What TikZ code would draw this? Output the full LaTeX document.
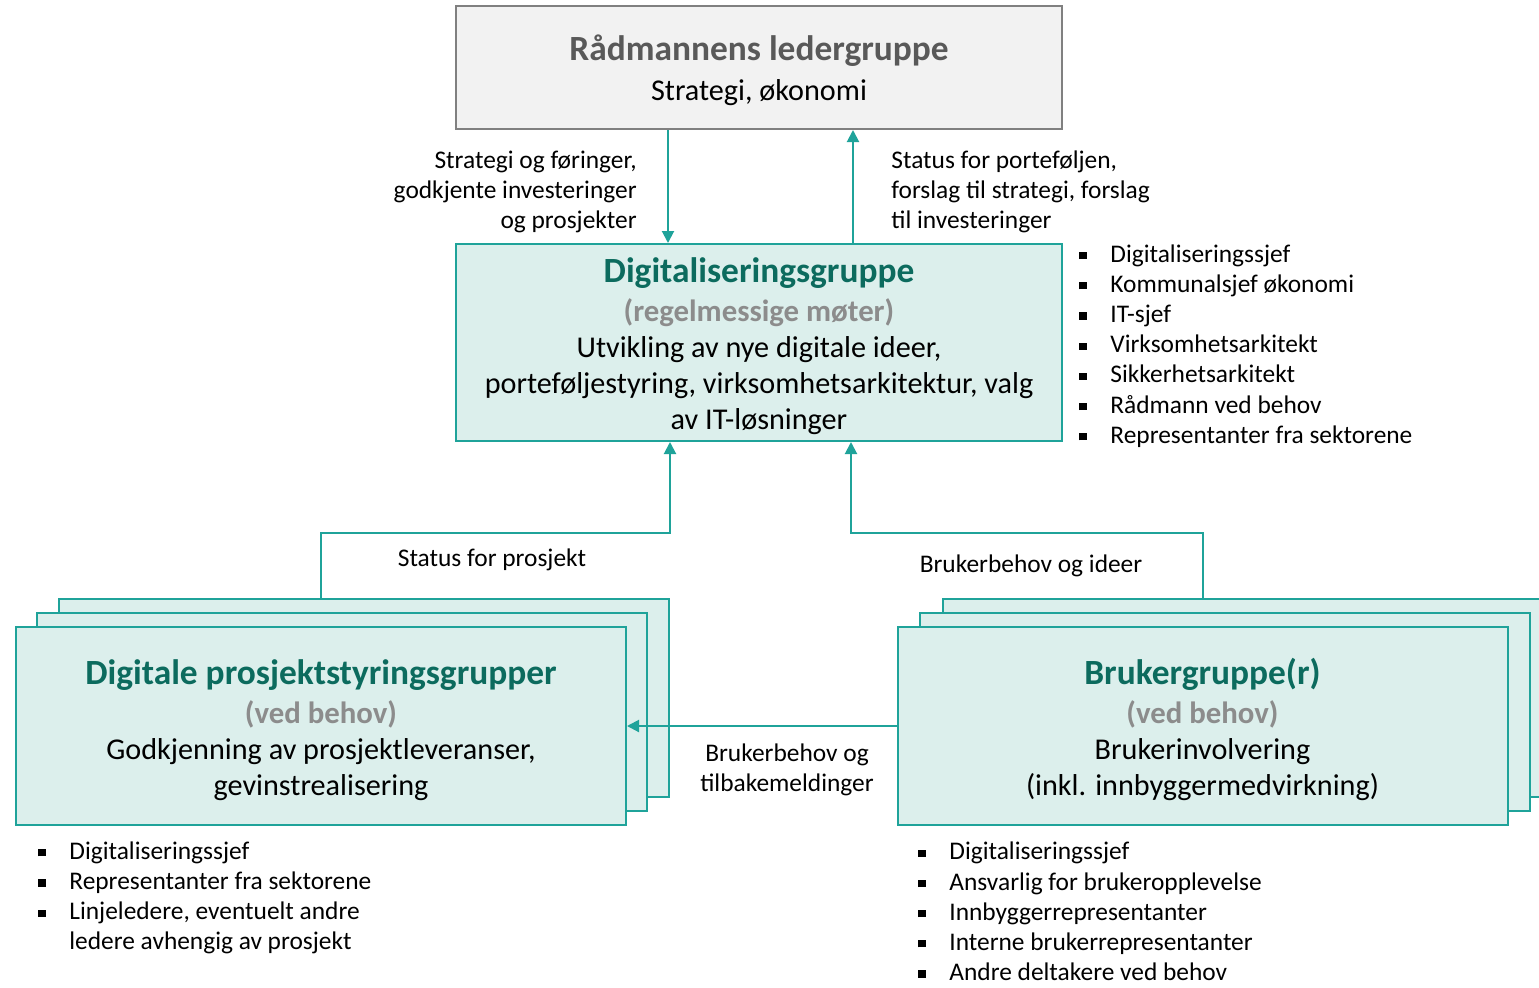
\documentclass[tikz,border=0pt]{standalone}
\usepackage{fontspec}
\setmainfont{Carlito}
\usetikzlibrary{arrows.meta,positioning}

\definecolor{tealline}{HTML}{1FA39A}
\definecolor{tealfill}{HTML}{DCEFEC}
\definecolor{tealdark}{HTML}{0C6B5E}
\definecolor{subgrey}{HTML}{8C8C8C}
\definecolor{boxgrey}{HTML}{F2F2F2}
\definecolor{linegrey}{HTML}{808080}
\definecolor{txtgrey}{HTML}{595959}

\newcommand{\grptitle}[1]{{\fontsize{17.7}{18}\selectfont\bfseries\color{tealdark}\rule{0pt}{16.5pt}#1}}
\newcommand{\grpsub}[1]{{\fontsize{15.4}{18}\selectfont\bfseries\color{subgrey}#1}}
\newcommand{\bul}{\makebox[15.5pt][l]{\rule[1.5pt]{3.6pt}{3.6pt}}}

\tikzset{
  grp/.style={draw=tealline, fill=tealfill, line width=1pt, minimum width=305pt,
    minimum height=99pt, inner sep=0pt, align=center,
    font=\fontsize{15.1}{18}\selectfont},
  topbox/.style={draw=linegrey, fill=boxgrey, line width=1pt, minimum width=303pt,
    minimum height=61.5pt, inner sep=0pt, align=center,
    font=\fontsize{15.1}{20}\selectfont},
  lbl/.style={inner sep=0pt, font=\fontsize{12.7}{15}\selectfont},
  lst/.style={inner sep=0pt, anchor=west, align=left, font=\fontsize{12.7}{15.1}\selectfont},
  arr/.style={draw=tealline, line width=1pt, -{Triangle[length=6pt,width=6pt]}}
}

\begin{document}
\begin{tikzpicture}[x=0.5pt, y=-0.5pt]
\useasboundingbox (0,0) rectangle (1539,987);

\node[topbox] (leder) at (759,67.5)
  {{\fontsize{17.7}{20}\selectfont\bfseries\color{txtgrey}\rule{0pt}{16pt}Rådmannens ledergruppe}\\Strategi, økonomi};
\node[grp, minimum width=303pt, minimum height=98.5pt] (digi) at (759,342.5)
  {\grptitle{Digitaliseringsgruppe}\\[1.5pt]\grpsub{(regelmessige møter)}\\
   Utvikling av nye digitale ideer,\\porteføljestyring, virksomhetsarkitektur, valg\\av IT-løsninger};

\node[grp] (prosj3) at (364,698) {};
\node[grp] (prosj2) at (342,712) {};
\node[grp] (prosj) at (321,726)
  {\grptitle{Digitale prosjektstyringsgrupper}\\[1.5pt]\grpsub{(ved behov)}\\
   Godkjenning av prosjektleveranser,\\gevinstrealisering};

\node[grp] (bruker3) at (1248,698) {};
\node[grp] (bruker2) at (1225,712) {};
\node[grp] (bruker) at (1202.5,726)
  {\grptitle{Brukergruppe(r)}\\[1.5pt]\grpsub{(ved behov)}\\
   Brukerinvolvering\\(inkl. innbyggermedvirkning)};

\draw[arr] ([xshift=-45.5pt]leder.south) -- ([xshift=-45.5pt]digi.north);
\draw[arr] ([xshift=47pt]digi.north) -- ([xshift=47pt]leder.south);
\draw[arr] (prosj.north |- prosj3.north) -- ++(0,-65) -| ([xshift=-44.5pt]digi.south);
\draw[arr] (bruker.north |- bruker3.north) -- ++(0,-65) -| ([xshift=46pt]digi.south);
\draw[arr] (bruker.west) -- (prosj.east);

\node[lbl, anchor=east, align=right] (nedover) at (637,192)
  {Strategi og føringer,\\godkjente investeringer\\og prosjekter};
\node[lbl, anchor=west, align=left] (oppover) at (891,192)
  {Status for porteføljen,\\forslag til strategi, forslag\\til investeringer};
\node[lbl] (status) at (492,560) {Status for prosjekt};
\node[lbl] (ideer) at (1031,566) {Brukerbehov og ideer};
\node[lbl, align=center] (tilbake) at (787,769.5) {Brukerbehov og\\tilbakemeldinger};

\node[lst] (digimedl) at (1079,346)
  {\bul Digitaliseringssjef\\\bul Kommunalsjef økonomi\\\bul IT-sjef\\
   \bul Virksomhetsarkitekt\\\bul Sikkerhetsarkitekt\\\bul Rådmann ved behov\\
   \bul Representanter fra sektorene};
\node[lst] (prosjmedl) at (38,898)
  {\bul Digitaliseringssjef\\\bul Representanter fra sektorene\\
   \bul Linjeledere, eventuelt andre\\\hspace*{15.5pt}ledere avhengig av prosjekt};
\node[lst] (brukermedl) at (918,911.5)
  {\bul Digitaliseringssjef\\\bul Ansvarlig for brukeropplevelse\\
   \bul Innbyggerrepresentanter\\\bul Interne brukerrepresentanter\\
   \bul Andre deltakere ved behov};
\end{tikzpicture}
\end{document}
